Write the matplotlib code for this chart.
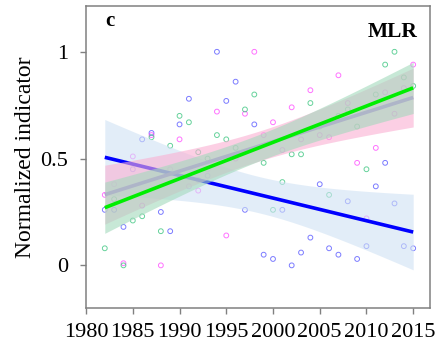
import matplotlib

matplotlib.use("Agg")

import matplotlib.pyplot as plt  # noqa: E402
import numpy as np  # noqa: E402

plt.rcParams["font.family"] = ["Liberation Serif", "DejaVu Serif"]

years = list(range(1982, 2016))

# normalized indicator per year, one series per colour
blue_vals = [0.26, 0.26, 0.18, 0.45, 0.59, 0.62, 0.25, 0.16, 0.66, 0.78,
             0.40, 0.42, 1.00, 0.77, 0.86, 0.26, 0.66, 0.05, 0.03, 0.26,
             0.00, 0.06, 0.13, 0.38, 0.08, 0.05, 0.30, 0.03, 0.09, 0.37,
             0.48, 0.29, 0.09, 0.08]
magenta_vals = [0.33, 0.38, 0.01, 0.51, 0.28, 0.61, 0.00, 0.45, 0.59, 0.37,
                0.35, 0.45, 0.72, 0.14, 0.50, 0.71, 1.00, 0.61, 0.67, 0.54,
                0.74, 0.59, 0.82, 0.61, 0.60, 0.89, 0.76, 0.48, 0.22, 0.55,
                0.81, 0.71, 0.83, 0.94]
green_vals = [0.08, 0.31, 0.00, 0.21, 0.23, 0.60, 0.16, 0.56, 0.70, 0.67,
              0.53, 0.50, 0.61, 0.59, 0.55, 0.73, 0.80, 0.48, 0.26, 0.39,
              0.52, 0.52, 0.76, 0.65, 0.33, 0.70, 0.73, 0.65, 0.45, 0.80,
              0.94, 1.00, 0.88, 0.84]

# linear trend: value at 1982 and 2015
fit_years = [1982, 2015]
blue_fit = [0.506, 0.156]
purple_fit = [0.331, 0.786]
green_fit = [0.270, 0.831]
# confidence band half-width at the ends and at the centre of the period
blue_ci = [0.177, 0.085]
purple_ci = [0.138, 0.070]
green_ci = [0.120, 0.062]


def trend_band(fit, ci):
    x = np.linspace(fit_years[0], fit_years[1], 100)
    xm = (fit_years[0] + fit_years[1]) / 2
    u = (x - xm) / (fit_years[1] - xm)
    y = fit[0] + (fit[1] - fit[0]) * (x - fit_years[0]) / (fit_years[1] - fit_years[0])
    hw = np.sqrt(ci[1] ** 2 + (ci[0] ** 2 - ci[1] ** 2) * u ** 2)
    return x, y, y - hw, y + hw


fig = plt.figure(figsize=(4.37, 3.45), dpi=100)
ax = fig.add_axes([0.197, 0.107, 0.787, 0.876])

pt = dict(s=12, facecolors="none", linewidths=0.7, zorder=1)
ax.scatter(years, blue_vals, edgecolors="#5050ff", alpha=0.75, **pt)
ax.scatter(years, magenta_vals, edgecolors="#ff44ff", alpha=0.75, **pt)
ax.scatter(years, green_vals, edgecolors="#33c37a", alpha=0.75, **pt)

layers = [
    (blue_fit, blue_ci, "#d0e2f4", 0.6, "#0000ff"),
    (purple_fit, purple_ci, "#fab0d2", 0.6, "#c080dc"),
    (green_fit, green_ci, "#a3d9bc", 0.6, "#00ee00"),
]
z = 2
for fit, ci, band_col, band_alpha, line_col in layers:
    x, y, lo, hi = trend_band(fit, ci)
    ax.fill_between(x, lo, hi, color=band_col, alpha=band_alpha, linewidth=0, zorder=z)
    ax.plot(x, y, color=line_col, linewidth=2.6, solid_capstyle="butt", zorder=z + 1)
    z += 2

ax.set_xlim(1980, 2016.8)
ax.set_ylim(-0.2, 1.215)
ax.set_xticks(range(1980, 2016, 5))
ax.set_yticks([0, 0.5, 1])
ax.set_yticklabels(["0", "0.5", "1"])
ax.tick_params(direction="out", length=4, width=1, color="#808080",
               labelsize=16, pad=7)
ax.tick_params(axis="y", pad=9)
for sp in ax.spines.values():
    sp.set_color("#808080")
    sp.set_linewidth(1.1)

ax.set_ylabel("Normalized indicator", fontsize=17, labelpad=3)
ax.text(0.055, 0.95, "c", transform=ax.transAxes, fontsize=15, fontweight="bold",
        ha="left", va="center")
ax.text(0.965, 0.915, "MLR", transform=ax.transAxes, fontsize=15.5, fontweight="bold",
        ha="right", va="center")

fig.savefig("out.png", dpi=100)
